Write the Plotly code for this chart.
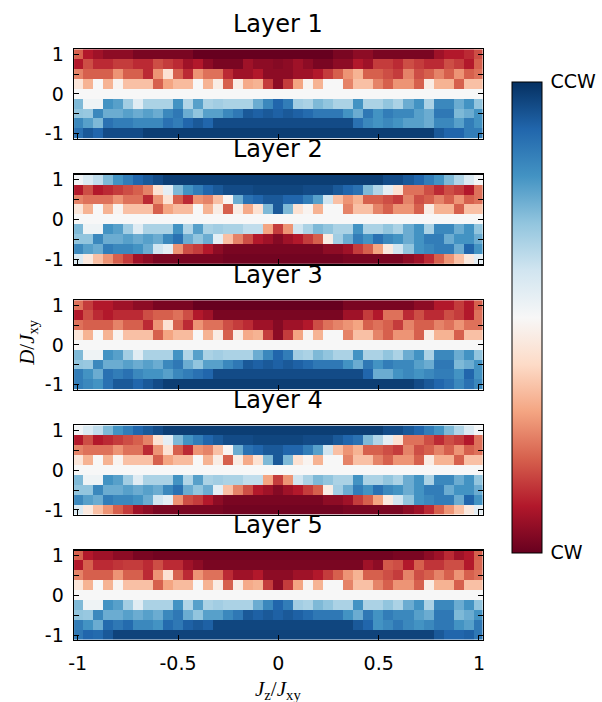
import plotly.graph_objects as go

# ---------------- data ----------------
JZ = [-1.0, -0.95, -0.9, -0.85, -0.8, -0.75, -0.7, -0.65, -0.6, -0.55,
      -0.5, -0.45, -0.4, -0.35, -0.3, -0.25, -0.2, -0.15, -0.1, -0.05,
      0.0, 0.05, 0.1, 0.15, 0.2, 0.25, 0.3, 0.35, 0.4, 0.45,
      0.5, 0.55, 0.6, 0.65, 0.7, 0.75, 0.8, 0.85, 0.9, 0.95, 1.0]
D_VALS = [1.0, 0.75, 0.5, 0.25, 0.0, -0.25, -0.5, -0.75, -1.0]
X_TICKS = [-1, -0.5, 0, 0.5, 1]
X_TICK_TEXT = ["-1", "-0.5", "0", "0.5", "1"]
Y_TICKS = [-1, -0.5, 0, 0.5, 1]
Y_TICK_TEXT = ["-1", "", "0", "", "1"]
LAYER_NAMES = ["Layer 1", "Layer 2", "Layer 3", "Layer 4", "Layer 5"]
CBAR_TEXT = ["\u2009CW", "\u2009CCW"]

# chirality: -1 = CW (red), +1 = CCW (blue); rows listed from D=1 down to D=-1
ROW_ZERO = [0.0, 0.0, 0.0, 0.0, 0.0, 0.0, 0.0, 0.0, 0.0, 0.0,
            0.0, 0.0, 0.0, 0.0, 0.0, 0.0, 0.0, 0.0, 0.0, 0.0,
            0.0, 0.0, 0.0, 0.0, 0.0, 0.0, 0.0, 0.0, 0.0, 0.0,
            0.0, 0.0, 0.0, 0.0, 0.0, 0.0, 0.0, 0.0, 0.0, 0.0, 0.0]

# rows that look the same in layers 1, 3 and 5
ODD_R050 = [-0.5, -0.6, -0.6, -0.6, -0.45, -0.6, -0.6, -0.75, -0.45, -0.15,
            -0.6, -0.75, -0.45, -0.55, -0.55, -0.75, -0.85, -0.85, -0.8, -0.9,
            -0.9, -0.9, -0.85, -0.85, -0.8, -0.7, -0.6, -0.45, -0.35, -0.6,
            -0.6, -0.65, -0.7, -0.5, -0.65, -0.6, -0.5, -0.6, -0.45, -0.6, -0.55]
ODD_R025 = [-0.12, -0.35, 0.0, -0.35, -0.03, -0.3, -0.3, -0.3, -0.6, -0.4,
            -0.32, -0.32, 0.0, -0.35, -0.08, -0.6, -0.08, -0.38, -0.35, -0.7,
            -0.9, -0.7, -0.4, -0.03, -0.35, 0.0, 0.0, -0.5, -0.3, -0.3,
            -0.5, -0.6, -0.45, -0.45, -0.6, -0.08, -0.35, -0.35, -0.6, -0.3, -0.3]
ODD_RM025 = [0.45, 0.05, 0.05, 0.6, 0.55, 0.35, 0.12, 0.32, 0.32, 0.32,
             0.6, 0.3, 0.55, 0.32, 0.35, 0.32, 0.32, 0.32, 0.5, 0.65,
             0.8, 0.7, 0.35, 0.32, 0.45, 0.4, 0.32, 0.32, 0.6, 0.32,
             0.32, 0.4, 0.32, 0.5, 0.6, 0.32, 0.65, 0.65, 0.5, 0.6, 0.4]
ODD_RM050 = [0.4, 0.38, 0.65, 0.5, 0.5, 0.55, 0.5, 0.55, 0.5, 0.65,
             0.72, 0.5, 0.4, 0.55, 0.55, 0.65, 0.72, 0.85, 0.82, 0.85,
             0.82, 0.85, 0.82, 0.78, 0.72, 0.72, 0.72, 0.6, 0.5, 0.72,
             0.6, 0.7, 0.65, 0.65, 0.55, 0.5, 0.72, 0.72, 0.45, 0.5, 0.6]

L1_R100 = [-0.6, -0.8, -0.85, -0.9, -0.9, -0.9, -0.95, -0.95, -0.95, -0.95,
           -0.95, -0.95, -1, -1, -1, -1, -1, -1, -1, -1,
           -1, -1, -1, -1, -1, -1, -0.95, -0.95, -0.9, -0.9,
           -0.95, -0.95, -0.95, -0.95, -0.95, -0.95, -0.85, -0.8, -0.8, -0.75, -0.65]
L1_R075 = [-0.8, -0.65, -0.75, -0.75, -0.7, -0.7, -0.75, -0.75, -0.65, -0.7,
           -0.75, -0.85, -0.8, -0.9, -0.95, -0.95, -0.95, -0.85, -0.9, -0.9,
           -0.92, -0.9, -0.85, -0.9, -0.95, -0.95, -0.9, -0.9, -0.8, -0.85,
           -0.7, -0.7, -0.75, -0.65, -0.7, -0.75, -0.75, -0.65, -0.7, -0.8, -0.6]
L1_RM075 = [0.65, 0.55, 0.45, 0.75, 0.7, 0.7, 0.65, 0.65, 0.65, 0.75,
            0.7, 0.8, 0.85, 0.8, 0.9, 0.9, 0.9, 0.9, 0.9, 0.9,
            0.9, 0.9, 0.9, 0.9, 0.9, 0.9, 0.9, 0.9, 0.75, 0.65,
            0.6, 0.65, 0.6, 0.55, 0.55, 0.5, 0.65, 0.65, 0.55, 0.7, 0.6]
L1_RM100 = [0.75, 0.85, 0.8, 0.9, 0.9, 0.9, 0.9, 0.95, 0.95, 0.95,
            0.95, 0.95, 0.95, 0.95, 0.95, 0.95, 0.95, 0.95, 0.95, 0.95,
            0.95, 0.95, 0.95, 0.95, 0.95, 0.95, 0.95, 0.95, 0.95, 0.95,
            0.95, 0.95, 0.95, 0.95, 0.95, 0.95, 0.85, 0.8, 0.8, 0.7, 0.7]

L2_R100 = [0.03, 0.15, 0.25, 0.45, 0.6, 0.7, 0.8, 0.85, 0.9, 0.95,
           0.95, 0.95, 0.95, 0.95, 0.95, 0.95, 0.95, 0.95, 0.95, 0.95,
           0.95, 0.95, 0.95, 0.95, 0.95, 0.95, 0.95, 0.95, 0.95, 0.95,
           0.95, 0.9, 0.9, 0.85, 0.8, 0.7, 0.6, 0.45, 0.3, 0.15, 0.02]
L2_R075 = [-0.8, -0.65, -0.8, -0.75, -0.7, -0.65, -0.6, -0.5, -0.15, 0.1,
           0.45, 0.6, 0.7, 0.8, 0.85, 0.9, 0.9, 0.9, 0.92, 0.92,
           0.92, 0.92, 0.92, 0.9, 0.9, 0.9, 0.85, 0.8, 0.75, 0.45,
           0.3, 0.1, -0.15, -0.55, -0.55, -0.65, -0.75, -0.65, -0.7, -0.8, -0.55]
L2_R050 = [-0.5, -0.55, -0.55, -0.55, -0.45, -0.55, -0.55, -0.75, -0.45, -0.15,
           -0.6, -0.75, -0.45, -0.5, -0.3, -0.02, 0.5, 0.75, 0.8, 0.85,
           0.85, 0.8, 0.8, 0.7, 0.55, 0.2, -0.3, -0.45, -0.35, -0.6,
           -0.6, -0.65, -0.7, -0.5, -0.65, -0.6, -0.5, -0.6, -0.45, -0.6, -0.55]
L2_R025 = [-0.12, -0.35, 0.0, -0.35, -0.03, -0.3, -0.3, -0.3, -0.6, -0.4,
           -0.32, -0.32, 0.0, -0.35, -0.08, -0.6, -0.08, -0.38, -0.15, 0.45,
           0.85, 0.45, -0.15, -0.03, -0.35, 0.0, 0.0, -0.5, -0.3, -0.3,
           -0.5, -0.6, -0.45, -0.45, -0.6, -0.08, -0.35, -0.35, -0.6, -0.3, -0.3]
L2_RM025 = [0.45, 0.05, 0.05, 0.6, 0.55, 0.35, 0.12, 0.32, 0.32, 0.32,
            0.6, 0.3, 0.55, 0.32, 0.35, 0.32, 0.32, 0.25, 0.25, -0.4,
            -0.7, -0.45, 0.2, 0.32, 0.45, 0.4, 0.32, 0.32, 0.6, 0.32,
            0.32, 0.4, 0.32, 0.5, 0.6, 0.32, 0.65, 0.65, 0.5, 0.6, 0.4]
L2_RM050 = [0.4, 0.4, 0.65, 0.5, 0.5, 0.55, 0.5, 0.55, 0.5, 0.65,
            0.75, 0.5, 0.4, 0.5, 0.1, -0.3, -0.5, -0.65, -0.8, -0.85,
            -0.92, -0.85, -0.8, -0.7, -0.6, -0.08, 0.35, 0.5, 0.7, 0.6,
            0.75, 0.65, 0.6, 0.5, 0.6, 0.7, 0.7, 0.5, 0.6, 0.6, 0.5]
L2_RM075 = [0.65, 0.55, 0.5, 0.7, 0.65, 0.65, 0.6, 0.5, 0.2, 0.1,
            -0.45, -0.65, -0.7, -0.8, -0.9, -0.95, -0.95, -0.95, -0.95, -0.95,
            -0.95, -0.95, -0.95, -0.95, -0.95, -0.9, -0.9, -0.85, -0.7, -0.6,
            -0.4, -0.1, 0.2, 0.4, 0.6, 0.65, 0.7, 0.7, 0.5, 0.8, 0.6]
L2_RM100 = [0.15, -0.1, -0.3, -0.45, -0.6, -0.7, -0.85, -0.9, -0.95, -0.95,
            -0.95, -0.95, -0.95, -0.95, -0.95, -0.97, -0.97, -0.97, -0.97, -0.97,
            -0.97, -0.97, -0.97, -0.97, -0.97, -0.97, -0.97, -0.95, -0.95, -0.95,
            -0.95, -0.95, -0.95, -0.9, -0.85, -0.75, -0.6, -0.45, -0.3, -0.1, 0.1]

L3_R100 = [-0.55, -0.7, -0.8, -0.8, -0.85, -0.85, -0.9, -0.9, -0.95, -0.95,
           -0.95, -0.95, -1, -1, -1, -1, -1, -1, -1, -1,
           -1, -1, -1, -1, -1, -1, -1, -0.95, -0.95, -0.95,
           -0.95, -0.95, -0.95, -0.95, -0.9, -0.9, -0.8, -0.8, -0.7, -0.8, -0.6]
L3_R075 = [-0.8, -0.65, -0.75, -0.8, -0.75, -0.75, -0.75, -0.65, -0.6, -0.6,
           -0.55, -0.65, -0.8, -0.85, -0.95, -0.95, -0.95, -0.95, -0.95, -0.95,
           -0.95, -0.95, -0.95, -0.95, -0.95, -0.95, -0.95, -0.85, -0.85, -0.7,
           -0.8, -0.55, -0.55, -0.75, -0.65, -0.75, -0.75, -0.65, -0.7, -0.8, -0.55]
L3_R050 = [-0.55, -0.6, -0.6, -0.6, -0.5, -0.6, -0.6, -0.75, -0.45, -0.15,
           -0.6, -0.75, -0.45, -0.55, -0.55, -0.65, -0.7, -0.75, -0.85, -0.85,
           -0.92, -0.85, -0.85, -0.8, -0.65, -0.55, -0.5, -0.45, -0.4, -0.6,
           -0.55, -0.6, -0.7, -0.5, -0.6, -0.6, -0.5, -0.55, -0.45, -0.55, -0.55]
L3_RM075 = [0.7, 0.6, 0.5, 0.75, 0.7, 0.75, 0.65, 0.6, 0.6, 0.55,
            0.65, 0.7, 0.75, 0.8, 0.9, 0.9, 0.9, 0.9, 0.9, 0.9,
            0.9, 0.9, 0.9, 0.9, 0.9, 0.9, 0.9, 0.9, 0.9, 0.8,
            0.5, 0.5, 0.6, 0.65, 0.6, 0.65, 0.7, 0.7, 0.6, 0.8, 0.6]
L3_RM100 = [0.7, 0.65, 0.6, 0.75, 0.85, 0.85, 0.8, 0.85, 0.9, 0.95,
            0.95, 0.95, 0.95, 0.95, 0.95, 0.95, 0.95, 0.95, 0.95, 0.95,
            0.95, 0.95, 0.95, 0.95, 0.95, 0.95, 0.95, 0.95, 0.95, 0.95,
            0.95, 0.95, 0.95, 0.95, 0.9, 0.85, 0.8, 0.75, 0.65, 0.75, 0.65]

L5_R100 = [-0.6, -0.8, -0.85, -0.85, -0.9, -0.9, -0.95, -0.95, -0.97, -0.97,
           -0.97, -0.97, -0.97, -0.97, -0.97, -0.97, -0.97, -0.97, -0.97, -0.97,
           -0.97, -0.97, -0.97, -0.97, -0.97, -0.97, -0.97, -0.97, -0.97, -0.97,
           -0.97, -0.97, -0.95, -0.95, -0.95, -0.9, -0.85, -0.75, -0.85, -0.8, -0.6]
L5_R075 = [-0.8, -0.6, -0.75, -0.75, -0.72, -0.7, -0.7, -0.75, -0.65, -0.75,
           -0.75, -0.85, -0.9, -0.95, -0.95, -0.95, -0.95, -0.95, -0.95, -0.95,
           -0.95, -0.95, -0.95, -0.95, -0.95, -0.95, -0.95, -0.95, -0.95, -0.85,
           -0.9, -0.62, -0.65, -0.8, -0.6, -0.72, -0.72, -0.65, -0.65, -0.8, -0.58]
L5_RM075 = [0.7, 0.6, 0.5, 0.78, 0.72, 0.78, 0.65, 0.65, 0.6, 0.78,
            0.72, 0.82, 0.85, 0.82, 0.92, 0.92, 0.92, 0.92, 0.92, 0.92,
            0.92, 0.92, 0.92, 0.92, 0.92, 0.92, 0.92, 0.92, 0.85, 0.8,
            0.6, 0.65, 0.72, 0.65, 0.6, 0.65, 0.72, 0.72, 0.6, 0.55, 0.72]
L5_RM100 = [0.72, 0.8, 0.78, 0.85, 0.93, 0.93, 0.93, 0.93, 0.93, 0.93,
            0.93, 0.93, 0.93, 0.93, 0.93, 0.93, 0.93, 0.93, 0.93, 0.93,
            0.93, 0.93, 0.93, 0.93, 0.93, 0.93, 0.93, 0.93, 0.93, 0.93,
            0.93, 0.93, 0.93, 0.93, 0.93, 0.93, 0.85, 0.8, 0.8, 0.82, 0.72]

LAYER1 = [L1_R100, L1_R075, ODD_R050, ODD_R025, ROW_ZERO, ODD_RM025, ODD_RM050, L1_RM075, L1_RM100]
LAYER2 = [L2_R100, L2_R075, L2_R050, L2_R025, ROW_ZERO, L2_RM025, L2_RM050, L2_RM075, L2_RM100]
LAYER3 = [L3_R100, L3_R075, L3_R050, ODD_R025, ROW_ZERO, ODD_RM025, ODD_RM050, L3_RM075, L3_RM100]
LAYER4 = [L2_R100, L2_R075, L2_R050, L2_R025, ROW_ZERO, L2_RM025, L2_RM050, L2_RM075, L2_RM100]
LAYER5 = [L5_R100, L5_R075, ODD_R050, ODD_R025, ROW_ZERO, ODD_RM025, ODD_RM050, L5_RM075, L5_RM100]
LAYERS = [LAYER1, LAYER2, LAYER3, LAYER4, LAYER5]

# matplotlib RdBu
RDBU = [[0.0, "#67001f"], [0.1, "#b2182b"], [0.2, "#d6604d"], [0.3, "#f4a582"],
        [0.4, "#fddbc7"], [0.5, "#f7f7f7"], [0.6, "#d1e5f0"], [0.7, "#92c5de"],
        [0.8, "#4393c3"], [0.9, "#2166ac"], [1.0, "#053061"]]

# ---------------- layout (pixels) ----------------
W, H = 602, 702
X0, X1 = 69, 483
PANEL_TOPS = [44, 171.7, 299.3, 426.7, 554]
PANEL_H = 91
FONT = "DejaVu Sans"
MATH_FONT = "Liberation Serif"
CB_TOP, CB_BOT = 77, 556

fig = go.Figure()
layout = dict(width=W, height=H, margin=dict(l=0, r=0, t=0, b=0),
              paper_bgcolor="white", plot_bgcolor="white", showlegend=False)
annotations = []

for i, (name, z) in enumerate(zip(LAYER_NAMES, LAYERS)):
    sfx = "" if i == 0 else str(i + 1)
    top = PANEL_TOPS[i]
    ydom = [1 - (top + PANEL_H) / H, 1 - top / H]
    trace = dict(x=JZ, y=D_VALS, z=z, zmin=-1, zmax=1, colorscale=RDBU,
                 showscale=(i == 0), xaxis="x" + sfx, yaxis="y" + sfx,
                 hoverinfo="skip")
    if i == 0:
        trace["colorbar"] = dict(
            x=513 / W, xanchor="left", y=1 - (CB_TOP + CB_BOT) / 2 / H,
            yanchor="middle", len=(CB_BOT - CB_TOP) / H, lenmode="fraction",
            thickness=30, thicknessmode="pixels",
            outlinewidth=1, outlinecolor="black", xpad=0, ypad=0,
            tickmode="array", tickvals=[-1, 1], ticktext=CBAR_TEXT, ticks="",
            tickfont=dict(family=FONT, size=19, color="black"))
    fig.add_trace(go.Heatmap(**trace))

    last = (i == len(LAYERS) - 1)
    layout["xaxis" + sfx] = dict(
        domain=[X0 / W, X1 / W], anchor="y" + sfx, range=[-1.018, 1.018],
        showgrid=False, zeroline=False, showline=True, linecolor="black",
        linewidth=1.5, mirror=True, ticks="inside", ticklen=5, tickwidth=1,
        tickcolor="black", tickmode="array", tickvals=X_TICKS,
        ticktext=X_TICK_TEXT, showticklabels=last, layer="above traces",
        tickfont=dict(family=FONT, size=19, color="black"), ticklabelstandoff=6)
    layout["yaxis" + sfx] = dict(
        domain=ydom, anchor="x" + sfx, range=[-1.125, 1.125],
        showgrid=False, zeroline=False, showline=True, linecolor="black",
        linewidth=1.5, mirror="ticks", ticks="inside", ticklen=5, tickwidth=1,
        tickcolor="black", tickmode="array", tickvals=Y_TICKS,
        ticktext=Y_TICK_TEXT, layer="above traces",
        tickfont=dict(family=FONT, size=19, color="black"), ticklabelstandoff=5)

    annotations.append(dict(text=name, x=(X0 + X1) / 2 / W, y=1 - (top - 26) / H,
                            xref="paper", yref="paper", showarrow=False,
                            xanchor="center", yanchor="middle",
                            font=dict(family=FONT, size=24, color="black")))

annotations.append(dict(text="<i>J</i><sub>z</sub>/<i>J</i><sub>xy</sub>",
                        x=(X0 + X1) / 2 / W, y=1 - 696 / H, xref="paper", yref="paper",
                        showarrow=False, xanchor="center", yanchor="middle",
                        font=dict(family=MATH_FONT, size=21, color="black")))
annotations.append(dict(text="<i>D</i>/<i>J</i><sub>xy</sub>",
                        x=22 / W, y=1 - 342 / H, xref="paper", yref="paper",
                        showarrow=False, xanchor="center", yanchor="middle",
                        textangle=-90,
                        font=dict(family=MATH_FONT, size=21, color="black")))
layout["annotations"] = annotations
fig.update_layout(**layout)

fig.write_html("out.html",
               config={"displayModeBar": False, "staticPlot": True},
               post_script="document.body.style.margin='0px';"
                           "document.body.style.overflow='hidden';")
